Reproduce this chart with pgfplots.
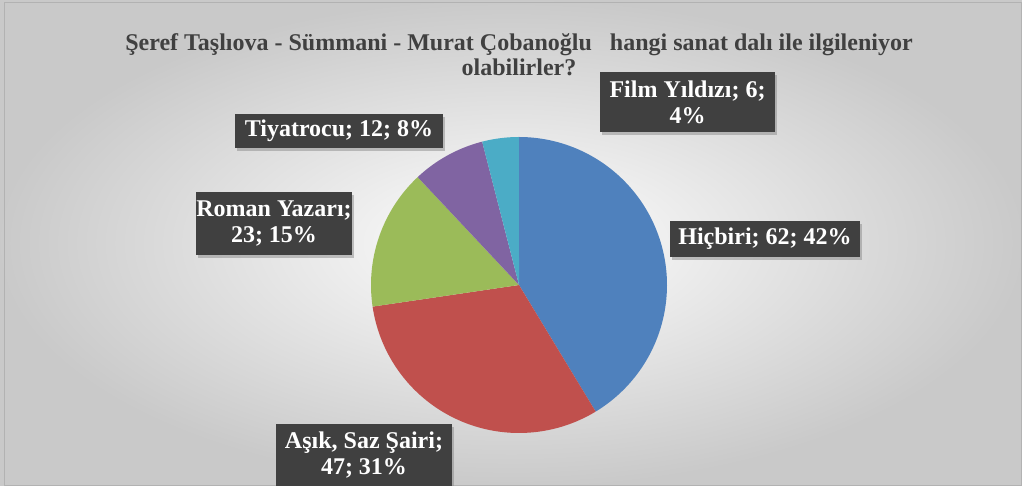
\documentclass[border=0pt]{standalone}
\usepackage{fontspec}
\setmainfont{Liberation Serif}
\usepackage{pgfplots}
\pgfplotsset{compat=1.18}
\usetikzlibrary{shadows}

\definecolor{cBlue}{HTML}{4F81BD}
\definecolor{cRed}{HTML}{C0504D}
\definecolor{cGreen}{HTML}{9BBB59}
\definecolor{cPurple}{HTML}{8064A2}
\definecolor{cAqua}{HTML}{4BACC6}
\definecolor{lblbg}{HTML}{404040}

% values: Hiçbiri, Aşık Saz Şairi, Roman Yazarı, Tiyatrocu, Film Yıldızı
\def\vA{62}
\def\vB{47}
\def\vC{23}
\def\vD{12}
\def\vE{6}
\pgfmathsetmacro\tot{\vA+\vB+\vC+\vD+\vE}
% start at 12 o'clock, clockwise
\pgfmathsetmacro\aO{90}
\pgfmathsetmacro\aA{\aO-\vA/\tot*360}
\pgfmathsetmacro\aB{\aA-\vB/\tot*360}
\pgfmathsetmacro\aC{\aB-\vC/\tot*360}
\pgfmathsetmacro\aD{\aC-\vD/\tot*360}
\pgfmathsetmacro\aE{\aD-\vE/\tot*360}

\tikzset{
  lbl/.style={fill=lblbg, text=white, align=center, inner sep=0pt,
    font=\bfseries\fontsize{24}{26}\selectfont,
    drop shadow={shadow xshift=2pt, shadow yshift=-3pt, opacity=0.45}},
}

\begin{document}
\begin{tikzpicture}[x=1pt,y=1pt]
  \shade[inner color=white, outer color=black!21] (0,0) rectangle (1022,486);
  \draw[black!30, line width=1pt] (4,0.5) rectangle (1021.5,483);

  \begin{axis}[
    at={(519pt,201pt)}, anchor=center,
    scale only axis, width=296pt, height=296pt,
    xmin=-1, xmax=1, ymin=-1, ymax=1,
    hide axis, clip=false,
    ]
    \addplot[fill=cBlue, draw=none, domain=\aA:\aO, samples=90] ({cos(x)},{sin(x)}) -- (0,0) -- cycle;
    \addplot[fill=cRed, draw=none, domain=\aB:\aA, samples=80] ({cos(x)},{sin(x)}) -- (0,0) -- cycle;
    \addplot[fill=cGreen, draw=none, domain=\aC:\aB, samples=50] ({cos(x)},{sin(x)}) -- (0,0) -- cycle;
    \addplot[fill=cPurple, draw=none, domain=\aD:\aC, samples=30] ({cos(x)},{sin(x)}) -- (0,0) -- cycle;
    \addplot[fill=cAqua, draw=none, domain=\aE:\aD, samples=20] ({cos(x)},{sin(x)}) -- (0,0) -- cycle;
  \end{axis}

  \node[align=center, text=black!75, font=\bfseries\fontsize{24}{25}\selectfont]
    at (519,431) {Şeref Taşlıova - Sümmani - Murat Çobanoğlu\ \ \ hangi sanat dalı ile ilgileniyor\\olabilirler?};

  \node[lbl, minimum width=175, minimum height=60] at (687.5,384) {Film Yıldızı; 6;\\4\%};
  \node[lbl, minimum width=208, minimum height=34] at (339,355) {Tiyatrocu; 12; 8\%};
  \node[lbl, minimum width=156, minimum height=63] at (274,262.5) {Roman Yazarı;\\23; 15\%};
  \node[lbl, minimum width=190, minimum height=36] at (765,247) {Hiçbiri; 62; 42\%};
  \node[lbl, minimum width=176, minimum height=62] at (364,31) {Aşık, Saz Şairi;\\47; 31\%};
\end{tikzpicture}
\end{document}
